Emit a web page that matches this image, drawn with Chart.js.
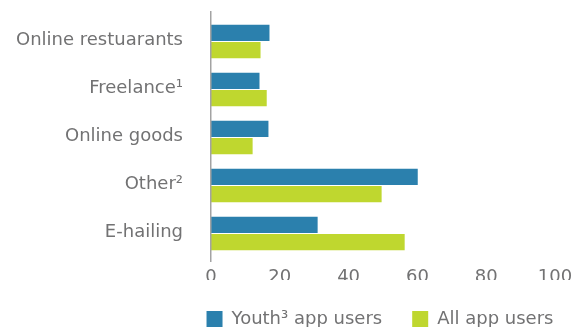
<!DOCTYPE html>
<html>
<head>
<meta charset="utf-8">
<script src="https://cdn.jsdelivr.net/npm/chart.js@4/dist/chart.umd.min.js"></script>
<style>
  html, body { margin: 0; padding: 0; background: #ffffff; overflow: hidden; }
  #wrap { width: 572px; height: 338px; }
</style>
</head>
<body>
<div id="wrap"><canvas id="c" width="572" height="338"></canvas></div>
<script>
const categories = ['Online restuarants', 'Freelance\u00B9', 'Online goods', 'Other\u00B2', 'E-hailing'];
const youthValues = [17.0, 14.1, 16.7, 60.1, 31.0];
const allValues = [14.4, 16.2, 12.1, 49.6, 56.3];
const xTicks = [0, 20, 40, 60, 80, 100];
const seriesNames = ['Youth\u00B3 app users', 'All app users'];

const textColor = '#727273';
const fontFamily = '"DejaVu Sans", sans-serif';

const axisLine = {
  id: 'axisLine',
  afterDatasetsDraw(chart) {
    const ctx = chart.ctx;
    const x = Math.round(chart.scales.x.getPixelForValue(0)) - 0.25;
    ctx.save();
    ctx.strokeStyle = '#a3a3a3';
    ctx.lineWidth = 1.5;
    ctx.beginPath();
    ctx.moveTo(x, chart.chartArea.top - 6.5);
    ctx.lineTo(x, chart.chartArea.bottom + 4.5);
    ctx.stroke();
    ctx.restore();
  }
};

const centerLegend = {
  id: 'centerLegend',
  afterLayout(chart) {
    const l = chart.legend;
    const ca = chart.chartArea;
    const w = l.right - l.left;
    const c = (ca.left + ca.right) / 2 - 3;
    l.left = c - w / 2;
    l.right = c + w / 2;
  }
};

new Chart(document.getElementById('c'), {
  type: 'bar',
  data: {
    labels: categories,
    datasets: [
      { label: seriesNames[0], data: youthValues, backgroundColor: '#2b80ad', borderWidth: 0,
        categoryPercentage: 0.72, barPercentage: 0.94 },
      { label: seriesNames[1], data: allValues, backgroundColor: '#bfd72f', borderWidth: 0,
        categoryPercentage: 0.72, barPercentage: 0.94 }
    ]
  },
  options: {
    indexAxis: 'y',
    responsive: false,
    animation: false,
    devicePixelRatio: 1,
    layout: { padding: { top: 17.5, right: 17, left: 0, bottom: 0 } },
    scales: {
      x: {
        min: 0, max: 100,
        afterBuildTicks(scale) { scale.ticks = xTicks.map(v => ({ value: v })); },
        afterFit(scale) { scale.height = 22.5; scale.paddingLeft = 0; scale.paddingRight = 0; },
        grid: { display: false, drawTicks: false },
        border: { display: false },
        ticks: { color: textColor, padding: 9, font: { family: fontFamily, size: 18 } }
      },
      y: {
        afterFit(scale) { scale.width = 211; scale.paddingTop = 0; scale.paddingBottom = 0; },
        grid: { display: false, drawTicks: false },
        border: { display: false },
        ticks: { color: textColor, padding: 28, labelOffset: -1.5, font: { family: fontFamily, size: 18 } }
      }
    },
    plugins: {
      legend: {
        position: 'bottom',
        labels: {
          color: textColor,
          boxWidth: 16, boxHeight: 16, padding: 30,
          font: { family: fontFamily, size: 18 }
        }
      },
      tooltip: { enabled: false }
    }
  },
  plugins: [axisLine, centerLegend]
});
</script>
</body>
</html>
